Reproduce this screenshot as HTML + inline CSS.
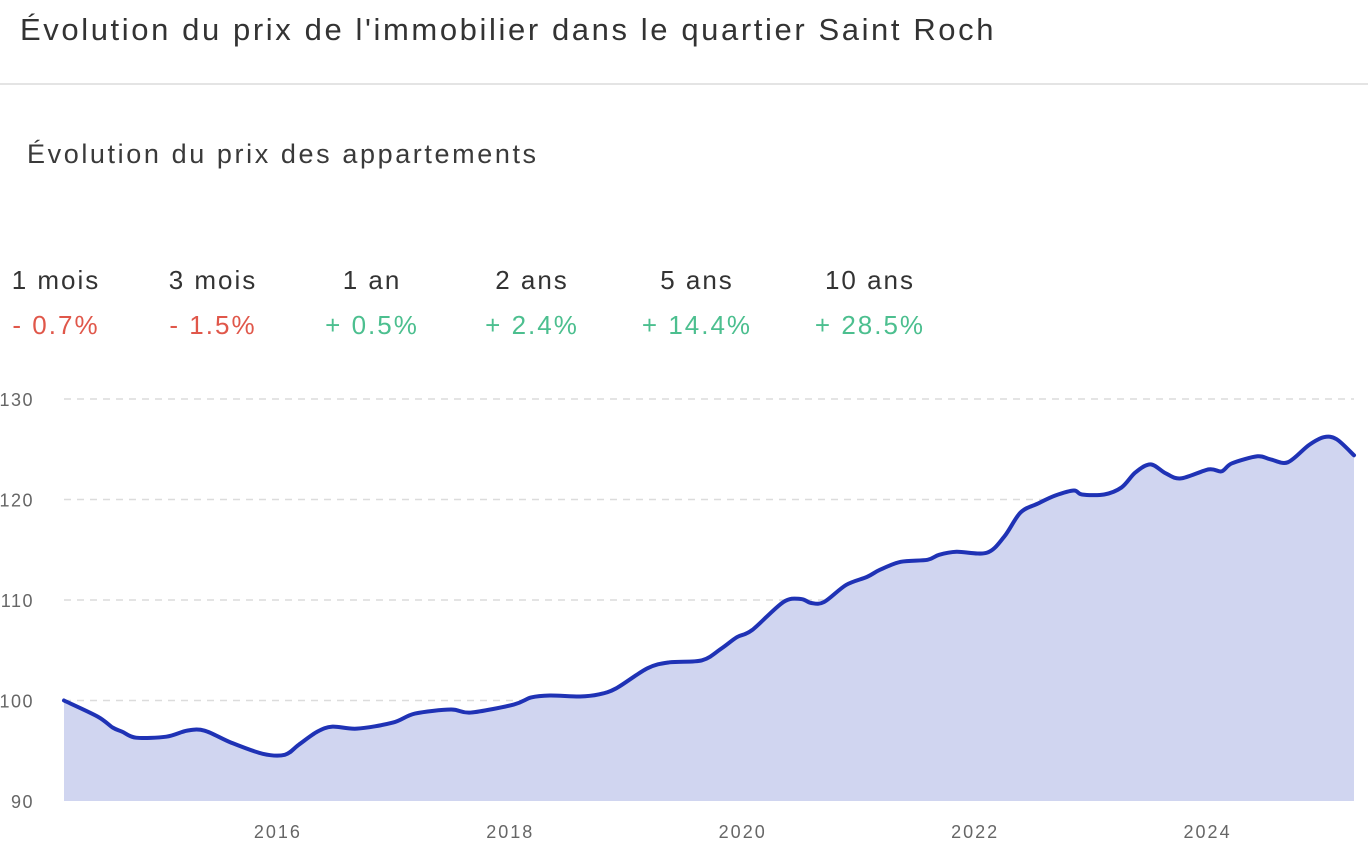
<!DOCTYPE html>
<html><head><meta charset="utf-8"><style>
body{margin:0;width:1368px;height:848px;background:#fff;font-family:"Liberation Sans",sans-serif;color:#333;overflow:hidden;position:relative}
.t{position:absolute;white-space:nowrap}
.stat{position:absolute;width:160px;text-align:center;font-size:26px;letter-spacing:2px}
</style></head><body>
<div class="t" style="left:20px;top:12px;font-size:31px;color:#333;letter-spacing:2.6px">Évolution du prix de l'immobilier dans le quartier Saint Roch</div>
<div style="position:absolute;left:0;top:83px;width:1368px;height:2px;background:#e4e4e4"></div>
<div class="t" style="left:27px;top:139px;font-size:27px;color:#3a3a3a;letter-spacing:2.6px">Évolution du prix des appartements</div>
<div>
<div class="stat" style="left:-24px;top:265px">1 mois</div>
<div class="stat" style="left:-24px;top:310px;color:#e0574a">- 0.7%</div>
<div class="stat" style="left:133px;top:265px">3 mois</div>
<div class="stat" style="left:133px;top:310px;color:#e0574a">- 1.5%</div>
<div class="stat" style="left:292px;top:265px">1 an</div>
<div class="stat" style="left:292px;top:310px;color:#4cbf8f">+ 0.5%</div>
<div class="stat" style="left:452px;top:265px">2 ans</div>
<div class="stat" style="left:452px;top:310px;color:#4cbf8f">+ 2.4%</div>
<div class="stat" style="left:617px;top:265px">5 ans</div>
<div class="stat" style="left:617px;top:310px;color:#4cbf8f">+ 14.4%</div>
<div class="stat" style="left:790px;top:265px">10 ans</div>
<div class="stat" style="left:790px;top:310px;color:#4cbf8f">+ 28.5%</div>
</div>
<svg id="chart" width="1368" height="848" style="position:absolute;left:0;top:0"></svg>
<script>
const years=[2014.16,2014.45,2014.58,2014.66,2014.78,2015.04,2015.22,2015.37,2015.60,2015.87,2016.06,2016.18,2016.34,2016.47,2016.68,2016.99,2017.18,2017.49,2017.66,2018.03,2018.18,2018.34,2018.60,2018.76,2018.91,2019.18,2019.37,2019.65,2019.82,2019.95,2020.08,2020.35,2020.50,2020.59,2020.70,2020.89,2021.07,2021.18,2021.36,2021.59,2021.69,2021.84,2022.10,2022.25,2022.39,2022.54,2022.69,2022.85,2022.92,2023.11,2023.26,2023.38,2023.51,2023.64,2023.77,2024.01,2024.12,2024.21,2024.43,2024.54,2024.69,2024.87,2025.00,2025.11,2025.26];
const values=[100.0,98.4,97.3,96.9,96.3,96.4,97.0,97.0,95.8,94.7,94.6,95.6,96.9,97.4,97.2,97.8,98.7,99.1,98.8,99.6,100.3,100.5,100.4,100.6,101.2,103.2,103.8,104.0,105.2,106.3,107.0,109.8,110.1,109.7,109.8,111.5,112.3,113.0,113.8,114.0,114.5,114.8,114.7,116.3,118.7,119.6,120.4,120.9,120.5,120.5,121.2,122.7,123.5,122.6,122.1,123.0,122.8,123.6,124.3,124.0,123.7,125.4,126.2,126.0,124.4];
const yTicks=[90,100,110,120,130];
const xTicks=[2016,2018,2020,2022,2024];
const NS="http://www.w3.org/2000/svg";
const svg=document.getElementById('chart');
const X0=64,X1=1354,Y0=801,Y1=399;
const xMin=2014.16,xMax=2025.26,yMin=90,yMax=130;
function xs(v){return X0+(v-xMin)/(xMax-xMin)*(X1-X0);}
function ys(v){return Y0-(v-yMin)/(yMax-yMin)*(Y0-Y1);}
function mk(tag,attrs){const e=document.createElementNS(NS,tag);for(const k in attrs)e.setAttribute(k,attrs[k]);svg.appendChild(e);return e;}
yTicks.forEach(t=>{
  if(t>yMin){const g=mk('line',{x1:X0,x2:X1,y1:ys(t),y2:ys(t),stroke:'#dcdcdc','stroke-width':1.5,'stroke-dasharray':'7,6'});
  
  }
  const l=mk('text',{x:34,y:ys(t)+7,'text-anchor':'end','font-size':18,'letter-spacing':1.5,fill:'#666','font-family':'Liberation Sans, sans-serif'});
  l.textContent=t;
  
  
});
xTicks.forEach(t=>{
  const l=mk('text',{x:xs(t),y:838,'text-anchor':'middle','font-size':18,'letter-spacing':2,fill:'#666','font-family':'Liberation Sans, sans-serif'});
  l.textContent=t;
  
  
});
const pts=years.map((y,i)=>[xs(y),ys(values[i])]);
function smooth(p){let d='M'+p[0][0]+','+p[0][1];for(let i=0;i<p.length-1;i++){const a=p[Math.max(i-1,0)],b=p[i],c=p[i+1],e=p[Math.min(i+2,p.length-1)];const t=0.16;d+=' C'+(b[0]+(c[0]-a[0])*t)+','+(b[1]+(c[1]-a[1])*t)+' '+(c[0]-(e[0]-b[0])*t)+','+(c[1]-(e[1]-b[1])*t)+' '+c[0]+','+c[1];}return d;}
const lineD=smooth(pts);
const area=mk('path',{d:lineD+' L'+pts[pts.length-1][0]+','+Y0+' L'+pts[0][0]+','+Y0+' Z',fill:'#d0d5f0'});


const line=mk('path',{d:lineD,fill:'none',stroke:'#1f32b5','stroke-width':4,'stroke-linejoin':'round','stroke-linecap':'round'});


</script>
</body></html>
